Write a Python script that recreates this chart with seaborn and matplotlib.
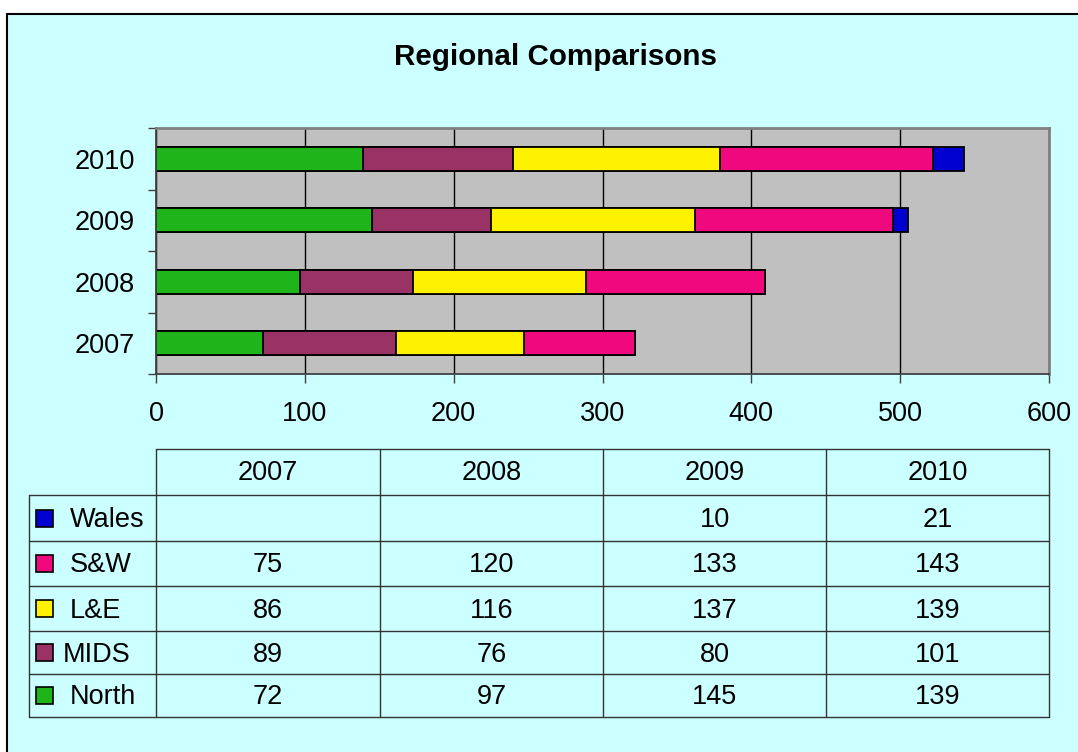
import numpy as np
import matplotlib
matplotlib.use("Agg")
import matplotlib.pyplot as plt
from matplotlib.patches import Rectangle
import seaborn as sns

# data
years = ["2007", "2008", "2009", "2010"]
regions = ["North", "MIDS", "L&E", "S&W", "Wales"]
north = [72, 97, 145, 139]
mids = [89, 76, 80, 101]
le = [86, 116, 137, 139]
sw = [75, 120, 133, 143]
wales = [np.nan, np.nan, 10, 21]
colors = ["#1EB41A", "#993366", "#FFF200", "#F0087F", "#0000D0"]

series = [north, mids, le, sw, wales]

sns.set_style("white")
plt.rcParams["font.family"] = ["Liberation Sans", "DejaVu Sans"]
plt.rcParams["text.color"] = "black"
plt.rcParams["xtick.labelcolor"] = "black"
plt.rcParams["ytick.labelcolor"] = "black"

W, H = 1078, 752
fig = plt.figure(figsize=(W / 100, H / 100), dpi=100)
fig.patch.set_facecolor("white")


def px(l, t, r, b):
    return [l / W, 1 - b / H, (r - l) / W, (b - t) / H]


# background / chart area in pixel coordinates
bg = fig.add_axes([0, 0, 1, 1])
bg.set_xlim(0, W)
bg.set_ylim(H, 0)
bg.axis("off")
bg.add_patch(Rectangle((7, 14), 1200, 900, facecolor="#CCFFFF",
                       edgecolor="black", lw=1.5))
bg.text(555, 57, "Regional Comparisons", ha="center", va="center",
        fontsize=21.3, fontweight="bold", color="black")

# stacked bars: draw cumulative totals, largest first
ax = fig.add_axes(px(156, 128, 1049, 374))
cum = np.cumsum(np.nan_to_num(np.array(series, dtype=float)), axis=0)
order = years[::-1]
for i in reversed(range(len(regions))):
    sns.barplot(x=list(cum[i]), y=years, order=order, orient="h",
                color=colors[i], saturation=1, edgecolor="black",
                linewidth=1.3, width=0.39, ax=ax)

ax.set_facecolor("#C0C0C0")
ax.set_axisbelow(True)
ax.set_xlim(0, 600)
ax.set_ylim(3.5, -0.5)
ax.set_xlabel("")
ax.set_ylabel("")
ax.xaxis.grid(True, color="black", lw=1)
ax.yaxis.grid(False)
for s in ax.spines.values():
    s.set_color("#808080")
    s.set_linewidth(2)
ax.spines["left"].set_color("#404040")
ax.spines["bottom"].set_color("#404040")
ax.spines["left"].set_linewidth(1.3)
ax.spines["bottom"].set_linewidth(1.3)

ax.set_xticks(range(0, 601, 100))
ax.tick_params(axis="x", length=6.5, width=1, color="#404040", pad=13,
               labelsize=19.5, labelcolor="black", bottom=True)
ax.set_yticks([-0.5, 0.5, 1.5, 2.5, 3.5])
ax.set_yticklabels([])
ax.set_yticks(range(4), minor=True)
ax.set_yticklabels(order, minor=True)
ax.tick_params(axis="y", which="major", length=6, width=1, color="#404040", left=True)
ax.tick_params(axis="y", which="minor", length=0, pad=15, labelsize=19.5,
               labelcolor="black")

# data table below the chart
col_x = [156, 380, 603, 826, 1049]
row_y = [449, 495, 541, 586, 631, 674, 717]
lc = "#333333"
bg.plot([156, 1049], [row_y[0], row_y[0]], color=lc, lw=1)
for y in row_y[1:]:
    bg.plot([29, 1049], [y, y], color=lc, lw=1)
for x in col_x:
    bg.plot([x, x], [row_y[0], row_y[-1]], color=lc, lw=1)
bg.plot([29, 29], [row_y[1], row_y[-1]], color=lc, lw=1)

for j, yr in enumerate(years):
    xc = (col_x[j] + col_x[j + 1]) / 2
    bg.text(xc, (row_y[0] + row_y[1]) / 2 + 1, yr, ha="center", va="center",
            fontsize=19.5, color="black")

label_x = [70, 63, 70, 70, 70]
for r, i in enumerate(reversed(range(len(regions)))):
    yc = (row_y[r + 1] + row_y[r + 2]) / 2
    bg.add_patch(Rectangle((36, yc - 8.5), 17, 17, facecolor=colors[i],
                           edgecolor="black", lw=1.2))
    bg.text(label_x[i], yc + 2, regions[i], ha="left", va="center",
            fontsize=19.5, color="black")
    for j in range(len(years)):
        v = series[i][j]
        if np.isnan(v):
            continue
        xc = (col_x[j] + col_x[j + 1]) / 2
        bg.text(xc, yc + 2, str(int(v)), ha="center", va="center",
                fontsize=19.5, color="black")

fig.savefig("out.png", dpi=100)
